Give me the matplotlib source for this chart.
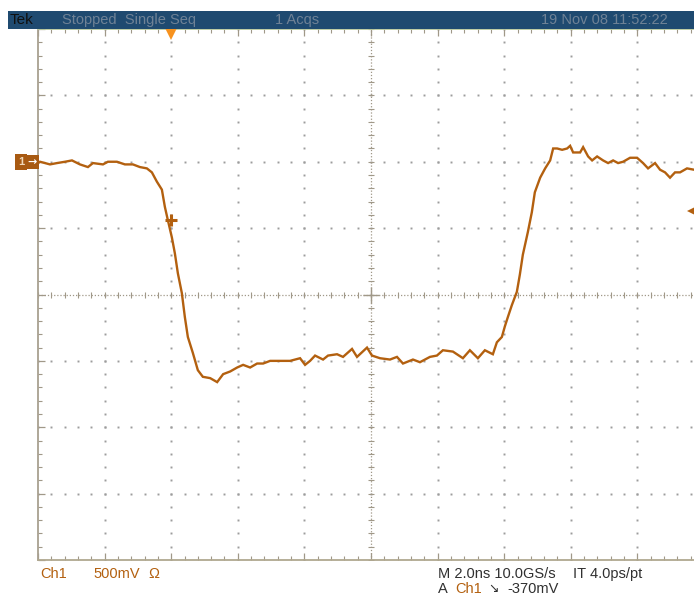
import numpy as np
import matplotlib
matplotlib.use("Agg")
import matplotlib.pyplot as plt
from matplotlib.patches import Rectangle

# ---- data (time in ns relative to trigger, voltage in V) ----
t_ns = [-4.00, -3.94, -3.64, -3.43, -3.19, -2.98, -2.74, -2.50, -2.35, -2.05,
        -1.90, -1.63, -1.39, -1.15, -0.94, -0.73, -0.58, -0.43, -0.28, -0.19,
        -0.10, 0.02, 0.11, 0.20, 0.32, 0.41, 0.50, 0.65, 0.80, 0.95,
        1.17, 1.38, 1.56, 1.77, 1.98, 2.16, 2.37, 2.58, 2.76, 2.97,
        3.27, 3.57, 3.87, 4.02, 4.17, 4.32, 4.56, 4.71, 4.98, 5.16,
        5.43, 5.58, 5.88, 6.03, 6.27, 6.57, 6.78, 6.96, 7.26, 7.47,
        7.77, 7.98, 8.16, 8.46, 8.76, 8.97, 9.21, 9.42, 9.66, 9.78,
        9.93, 10.02, 10.11, 10.23, 10.38, 10.47, 10.56, 10.71, 10.83, 10.92,
        11.08, 11.23, 11.38, 11.47, 11.59, 11.74, 11.89, 11.98, 12.07, 12.28,
        12.37, 12.52, 12.64, 12.79, 12.97, 13.12, 13.27, 13.42, 13.57, 13.78,
        13.99, 14.17, 14.32, 14.53, 14.68, 14.83, 14.98, 15.13, 15.28, 15.49,
        15.70, 16.00]
v_volts = [-0.01, 0.00, -0.02, -0.01, 0.00, 0.01, -0.02, -0.04, -0.01, -0.02,
           0.00, 0.00, -0.02, -0.02, -0.04, -0.05, -0.08, -0.15, -0.21, -0.34,
           -0.44, -0.57, -0.69, -0.84, -0.99, -1.17, -1.32, -1.44, -1.57, -1.62,
           -1.63, -1.66, -1.60, -1.58, -1.55, -1.53, -1.55, -1.52, -1.52, -1.50,
           -1.50, -1.50, -1.48, -1.53, -1.50, -1.46, -1.49, -1.46, -1.45, -1.47,
           -1.41, -1.47, -1.40, -1.46, -1.48, -1.49, -1.47, -1.52, -1.49, -1.51,
           -1.47, -1.46, -1.42, -1.43, -1.48, -1.42, -1.48, -1.42, -1.45, -1.36,
           -1.32, -1.24, -1.17, -1.08, -0.98, -0.85, -0.70, -0.53, -0.38, -0.23,
           -0.12, -0.05, 0.01, 0.10, 0.10, 0.09, 0.10, 0.12, 0.07, 0.07,
           0.11, 0.04, 0.01, 0.04, 0.01, -0.01, 0.01, -0.01, 0.00, 0.03,
           0.03, -0.01, -0.05, -0.01, -0.06, -0.08, -0.12, -0.08, -0.08, -0.05,
           -0.06, -0.06]
assert len(t_ns) == len(v_volts)

trigger_time = 0.0
trigger_level = -0.37
trigger_point_v = -0.44
ground_level = 0.0

t_min, t_max = -4.0, 16.0   # 2 ns/div, 10 divisions
v_min, v_max = -3.0, 1.0    # 500 mV/div, 8 divisions

# ---- styling ----
TRACE = "#B3600F"
GRID = "#9C9C9C"
CENTER = "#A09888"
BAR = "#1F4A70"
BARTXT = "#6F8296"
W, H = 694, 595
FAM = ["Liberation Sans Narrow", "Liberation Sans", "DejaVu Sans"]
plt.rcParams["font.family"] = FAM
FS = 10.5

fig = plt.figure(figsize=(W / 100, H / 100), dpi=100)
fig.patch.set_facecolor("white")
ax = fig.add_axes([38 / W, 1 - 560 / H, 666 / W, 531 / H])
ax.set_xlim(t_min, t_max)
ax.set_ylim(v_min, v_max)
ax.set_facecolor("white")

# dotted graticule
div_t = np.arange(t_min, t_max + 1e-9, 2.0)
div_v = np.arange(v_min, v_max + 1e-9, 0.5)
sub_t = np.arange(t_min, t_max + 1e-9, 0.4)
sub_v = np.arange(v_min, v_max + 1e-9, 0.1)
center_t = (t_min + t_max) / 2
center_v = (v_min + v_max) / 2
for tx in div_t[1:-1]:
    if abs(tx - center_t) < 1e-6:
        continue
    ax.plot(np.full_like(sub_v, tx), sub_v, ls="none", marker="s", ms=1.4,
            mew=0, color=GRID, zorder=1)
for vy in div_v[1:-1]:
    if abs(vy - center_v) < 1e-6:
        continue
    ax.plot(sub_t, np.full_like(sub_t, vy), ls="none", marker="s", ms=1.4,
            mew=0, color=GRID, zorder=1)

# center lines with sub-division ticks
ax.axvline(center_t, color=CENTER, lw=0.9, ls=(0, (1, 1.5)), zorder=1)
ax.axhline(center_v, color=CENTER, lw=0.9, ls=(0, (1, 1.5)), zorder=1)
ax.plot(np.full_like(sub_v, center_t), sub_v, ls="none", marker="_", ms=5,
        mew=0.8, color=CENTER, zorder=1)
ax.plot(sub_t, np.full_like(sub_t, center_v), ls="none", marker="|", ms=5,
        mew=0.8, color=CENTER, zorder=1)
ax.plot([center_t], [center_v], marker="+", ms=12, mew=1.0, color=CENTER, zorder=1)

# edge ticks
ax.set_xticks(div_t)
ax.set_xticks(sub_t, minor=True)
ax.set_yticks(div_v)
ax.set_yticks(sub_v, minor=True)
ax.tick_params(which="both", direction="in", top=True, bottom=True, left=True,
               right=True, labelbottom=False, labelleft=False, color=CENTER)
ax.tick_params(which="major", length=5, width=0.9)
ax.tick_params(which="minor", length=3, width=0.8)
ax.spines["left"].set_color("#A8A090")
ax.spines["bottom"].set_color("#B0A890")
ax.spines["top"].set_color("#B8C89C")
ax.spines["right"].set_color("#B0A890")
for s in ax.spines.values():
    s.set_linewidth(1.3)

# trace
ax.plot(t_ns, v_volts, color=TRACE, lw=1.7, zorder=3, solid_joinstyle="miter")
ax.plot([trigger_time], [trigger_point_v], marker="+", ms=9, mew=2.2,
        color=TRACE, zorder=4)

# trigger markers
ax.plot([trigger_time], [v_max - 0.035], marker="v", ms=9, mew=0,
        color="#F7921E", clip_on=False, zorder=5)
ax.plot([15.6], [trigger_level], marker="<", ms=6, mew=0, color=TRACE,
        clip_on=False, zorder=5)

# channel 1 ground marker
ax.annotate("1", xy=(t_min, ground_level), xytext=(-12, 0),
            textcoords="offset points", ha="center", va="center",
            fontsize=8, color="#F0D8B8", fontweight="bold",
            bbox=dict(boxstyle="square,pad=0.25", fc="#A85A12", ec="none"),
            annotation_clip=False)
ax.annotate("\u2192", xy=(t_min, ground_level), xytext=(-4.2, 0),
            textcoords="offset points", ha="center", va="center",
            fontsize=8, color="white", family=["DejaVu Sans"], fontweight="bold",
            bbox=dict(boxstyle="square,pad=0.18", fc="#A85A12", ec="none"),
            annotation_clip=False)

# top status bar
fig.add_artist(Rectangle((8 / W, 1 - 29 / H), (W - 8) / W, 18 / H,
                         transform=fig.transFigure, fc=BAR, ec="none"))
ty = 1 - 20 / H
fig.text(10 / W, ty, "Tek", color="#101010", fontsize=FS + 0.5, va="center")
fig.text(62 / W, ty, "Stopped  Single Seq", color=BARTXT, fontsize=FS, va="center")
fig.text(275 / W, ty, "1 Acqs", color=BARTXT, fontsize=FS, va="center")
fig.text(541 / W, ty, "19 Nov 08 11:52:22", color=BARTXT, fontsize=FS, va="center")

# bottom readouts
y1 = 1 - 574 / H
y2 = 1 - 589 / H
fig.text(40 / W, y1, "Ch1", color=TRACE, fontsize=FS, va="center")
fig.text(93 / W, y1, "500mV", color=TRACE, fontsize=FS, va="center")
fig.text(148 / W, y1, "\u03A9", color=TRACE, fontsize=FS, va="center")
fig.text(438 / W, y1, "M 2.0ns 10.0GS/s", color="#303030", fontsize=FS, va="center")
fig.text(573 / W, y1, "IT 4.0ps/pt", color="#303030", fontsize=FS, va="center")
fig.text(438 / W, y2, "A", color="#303030", fontsize=FS, va="center")
fig.text(455 / W, y2, "Ch1", color=TRACE, fontsize=FS, va="center")
fig.text(488 / W, y2, "\u2198", color="#303030", fontsize=9, va="center",
         family=["DejaVu Sans"])
fig.text(507 / W, y2, "-370mV", color="#303030", fontsize=FS, va="center")

fig.savefig("out.png", dpi=100)
